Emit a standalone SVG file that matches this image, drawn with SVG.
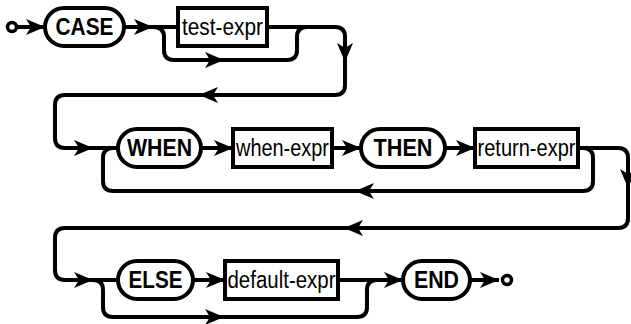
<svg xmlns="http://www.w3.org/2000/svg" width="631" height="324" viewBox="0 0 631 324">
<style>
.ln{fill:none;stroke:#000;stroke-width:4;stroke-linejoin:round}
.a{marker-end:url(#arr)}
.kw{fill:#fff;stroke:#000;stroke-width:4}
.bx{fill:#fff;stroke:#000;stroke-width:4}
.tk{font-family:"Liberation Sans",Arial,sans-serif;font-size:23px;font-weight:bold;text-anchor:middle;fill:#000}
.tx{font-family:"Liberation Sans",Arial,sans-serif;font-size:23px;text-anchor:middle;fill:#000}
.term{fill:#fff;stroke:#000;stroke-width:3.5}
</style>
<defs>
<marker id="arr" markerUnits="userSpaceOnUse" markerWidth="20" markerHeight="17" viewBox="0 0 20 17" refX="19" refY="8.5" orient="auto">
<path d="M0,0.5 L19,8.5 L0,16.5 L5,8.5 z" fill="#000"/>
</marker>
</defs>
<rect width="631" height="324" fill="#fff"/>
<g id="connectors">
<path class="ln a" d="M17 27 L45 27"/>
<path class="ln a" d="M124 27 L153 27"/>
<path class="ln" d="M153 27 L178 27"/>
<path class="ln a" d="M153 27 Q164 27 164 37 L164 50 Q164 60 174 60 L224 60"/>
<path class="ln" d="M224 60 L287 60 Q297 60 297 50 L297 37 Q297 27 307 27"/>
<path class="ln a" d="M267 27 L335 27 Q345 27 345 37 L345 62"/>
<path class="ln a" d="M345 62 L345 85 Q345 95 335 95 L199 95"/>
<path class="ln a" d="M199 95 L65 95 Q55 95 55 105 L55 138 Q55 148 65 148 L93 148"/>
<path class="ln" d="M93 148 L118 148"/>
<path class="ln a" d="M201 148 L233 148"/>
<path class="ln a" d="M332 148 L361 148"/>
<path class="ln a" d="M445 148 L475 148"/>
<path class="ln a" d="M578 148 L618 148 Q628 148 628 158 L628 188"/>
<path class="ln a" d="M628 188 L628 218 Q628 228 618 228 L344 228"/>
<path class="ln a" d="M344 228 L65 228 Q55 228 55 238 L55 270 Q55 280 65 280 L93 280"/>
<path class="ln" d="M93 280 L118 280"/>
<path class="ln a" d="M578 148 L583 148 Q593 148 593 158 L593 181 Q593 191 583 191 L355 191"/>
<path class="ln" d="M355 191 L113 191 Q103 191 103 181 L103 158 Q103 148 113 148"/>
<path class="ln a" d="M193 280 L225 280"/>
<path class="ln a" d="M338 280 L403 280"/>
<path class="ln a" d="M93 280 Q103 280 103 290 L103 307 Q103 317 113 317 L224 317"/>
<path class="ln" d="M224 317 L357 317 Q367 317 367 307 L367 290 Q367 280 377 280"/>
<path class="ln a" d="M470 280 L499 280"/>
</g>
<g id="start"><circle class="term" cx="12" cy="27" r="4.5"/></g>
<g id="case"><rect class="kw" x="45" y="8" width="79" height="38" rx="19"/><text class="tk" x="84.5" y="35" textLength="58" lengthAdjust="spacingAndGlyphs">CASE</text></g>
<g id="test-expr"><rect class="bx" x="178" y="8" width="89" height="38"/><text class="tx" x="222.5" y="35" textLength="81" lengthAdjust="spacingAndGlyphs">test-expr</text></g>
<g id="when"><rect class="kw" x="118" y="129" width="83" height="38" rx="19"/><text class="tk" x="159.5" y="156" textLength="65" lengthAdjust="spacingAndGlyphs">WHEN</text></g>
<g id="when-expr"><rect class="bx" x="233" y="129" width="99" height="38"/><text class="tx" x="282.5" y="156" textLength="93" lengthAdjust="spacingAndGlyphs">when-expr</text></g>
<g id="then"><rect class="kw" x="361" y="129" width="84" height="38" rx="19"/><text class="tk" x="403" y="156" textLength="59" lengthAdjust="spacingAndGlyphs">THEN</text></g>
<g id="return-expr"><rect class="bx" x="475" y="129" width="103" height="38"/><text class="tx" x="526.5" y="156" textLength="98" lengthAdjust="spacingAndGlyphs">return-expr</text></g>
<g id="else"><rect class="kw" x="118" y="261" width="75" height="38" rx="19"/><text class="tk" x="155.5" y="288" textLength="54" lengthAdjust="spacingAndGlyphs">ELSE</text></g>
<g id="default-expr"><rect class="bx" x="225" y="261" width="113" height="38"/><text class="tx" x="281.5" y="288" textLength="108" lengthAdjust="spacingAndGlyphs">default-expr</text></g>
<g id="end"><rect class="kw" x="403" y="261" width="67" height="38" rx="19"/><text class="tk" x="436.5" y="288" textLength="45" lengthAdjust="spacingAndGlyphs">END</text></g>
<g id="finish"><circle class="term" cx="507" cy="280" r="4.5"/></g>
</svg>
